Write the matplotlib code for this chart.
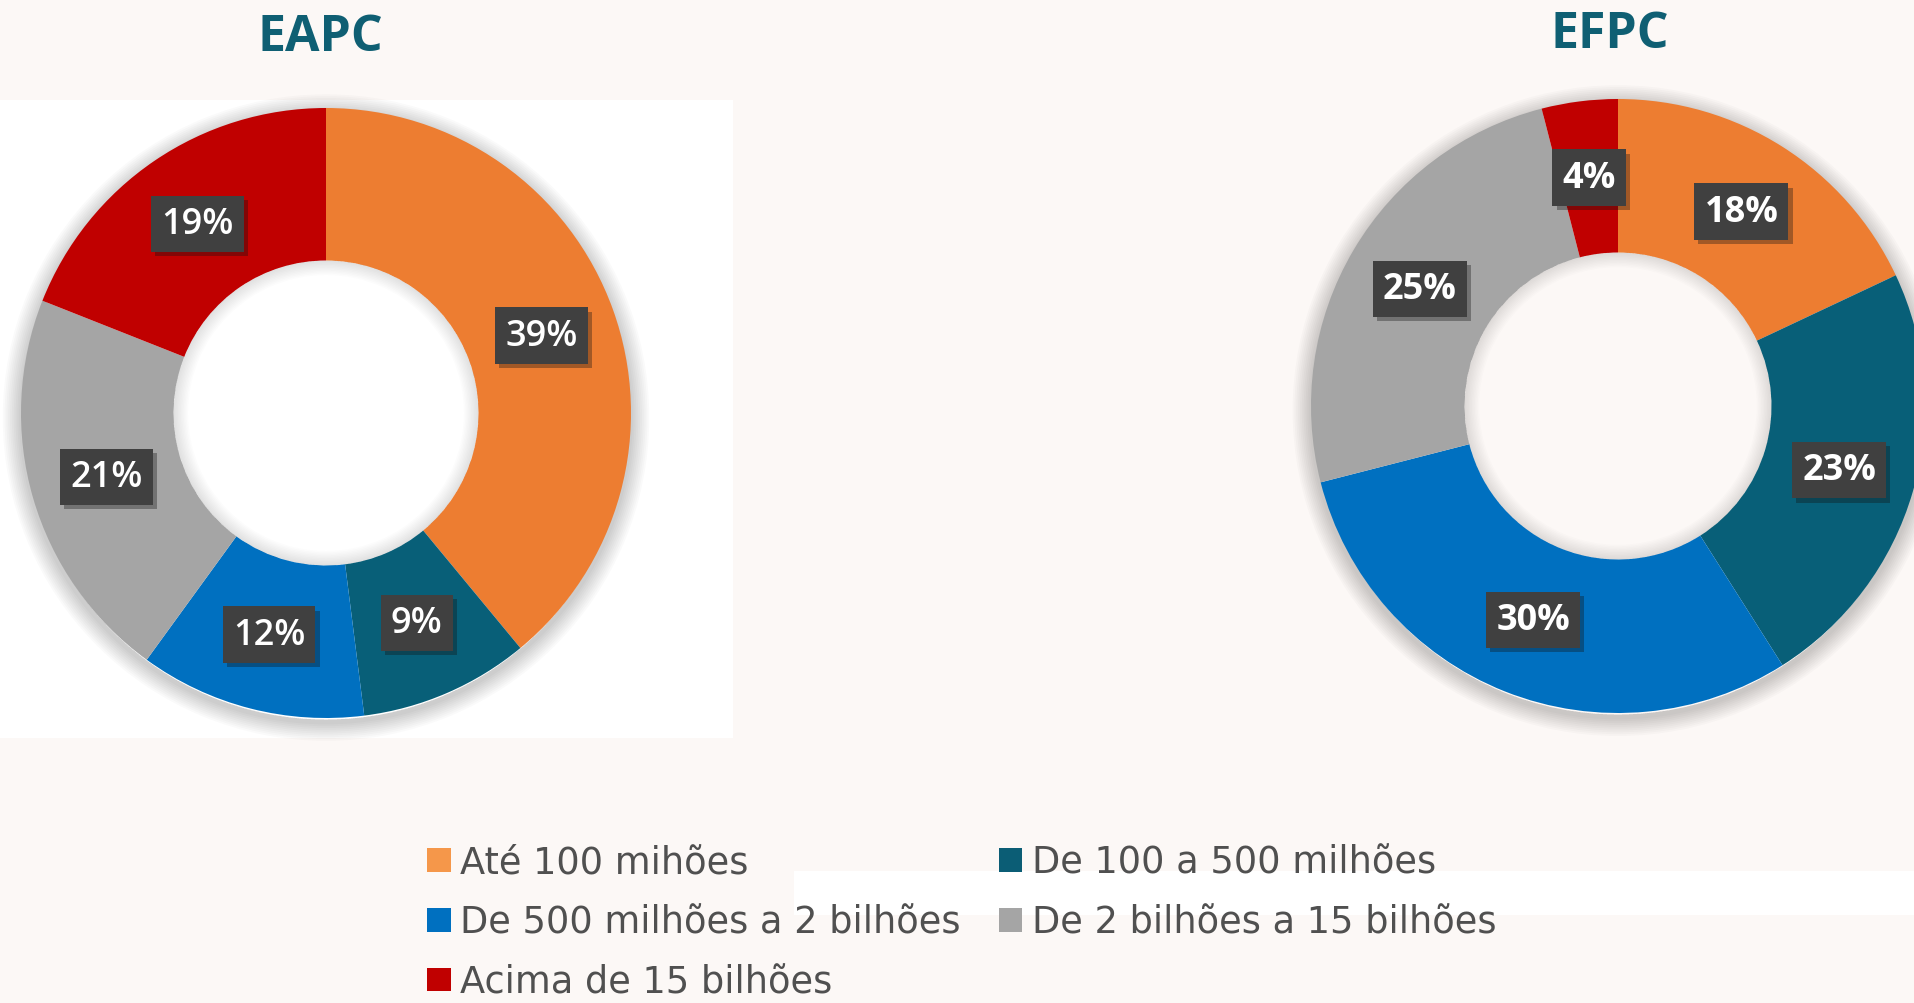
import matplotlib
matplotlib.use('Agg')
import matplotlib.pyplot as plt
import matplotlib.patheffects as pe
from matplotlib.patches import Patch, Rectangle, Wedge

W, H = 1915, 1004

categories = ['Até 100 mihões', 'De 100 a 500 milhões', 'De 500 milhões a 2 bilhões',
              'De 2 bilhões a 15 bilhões', 'Acima de 15 bilhões']
eapc = [39, 9, 12, 21, 19]
efpc = [18, 23, 30, 25, 4]
colors = ['#ED7D31', '#085F78', '#0070C0', '#A5A5A5', '#C00000']
legend_colors = ['#F5974A', '#0B5D75', '#0070C0', '#A5A5A5', '#C00000']

fig = plt.figure(figsize=(W / 100, H / 100), dpi=100, facecolor='#fcf8f6')

# white panels of the slide
fig.patches.append(Rectangle((0, 1 - 739 / H), 733 / W, (739 - 101) / H,
                             transform=fig.transFigure, fc='white', ec='none', zorder=-1))
fig.patches.append(Rectangle((794 / W, 1 - 916 / H), (W - 794) / W, (916 - 872) / H,
                             transform=fig.transFigure, fc='white', ec='none', zorder=-1))


def donut(cx, cy, R, values, title, title_xy, weight):
    m = 1.15  # room for the shadow
    ax = fig.add_axes([(cx - R * m) / W, 1 - (cy + R * m) / H, 2 * R * m / W, 2 * R * m / H])
    # soft shadow around the ring and inside the hole
    for k in range(10):
        d = 0.006 * (k + 1)
        ax.add_patch(Wedge((0.0, -0.015), 1 + d, 0, 360, width=d + 0.01,
                           fc='black', ec='none', alpha=0.018, zorder=0))
        ax.add_patch(Wedge((0.0, 0.0), 0.5, 0, 360, width=d * 0.8,
                           fc='black', ec='none', alpha=0.012, zorder=3))
    wedges, _, autotexts = ax.pie(values, colors=colors, startangle=90, counterclock=False,
                                  radius=1, autopct=lambda p: f'{p:.0f}%', pctdistance=0.75,
                                  wedgeprops=dict(width=0.5, linewidth=0))
    ax.set_xlim(-m, m)
    ax.set_ylim(-m, m)
    ax.set_aspect('equal')
    ax.axis('off')
    for t in autotexts:
        t.set(color='white', fontsize=26, fontweight=weight, family='Open Sans', zorder=5)
        t.set_bbox(dict(boxstyle='square,pad=0.28', fc='#404040', ec='none'))
        t.get_bbox_patch().set_path_effects([pe.SimplePatchShadow(offset=(3, -3), alpha=0.35),
                                             pe.Normal()])
    fig.text(title_xy[0] / W, 1 - title_xy[1] / H, title, ha='center', va='center',
             fontsize=36, fontweight='bold', color='#0F5F73', family='Open Sans')
    return wedges


donut(326, 414, 305, eapc, 'EAPC', (320, 38), 'semibold')
donut(1618, 407, 307, efpc, 'EFPC', (1610, 35), 'bold')

handles = [Patch(fc=c, ec='none') for c in legend_colors]
order = [0, 2, 4, 1, 3]
fig.legend([handles[i] for i in order], [categories[i] for i in order],
           loc='upper left', bbox_to_anchor=(427 / W, 1 - 845 / H), ncol=2, frameon=False,
           prop=dict(family='DejaVu Sans', size=26.5),
           labelcolor='#505050', handlelength=0.64, handleheight=0.6, handletextpad=0.25,
           columnspacing=1.05, labelspacing=0.62, borderpad=0, borderaxespad=0)

fig.savefig('out.png', dpi=100, facecolor=fig.get_facecolor())
